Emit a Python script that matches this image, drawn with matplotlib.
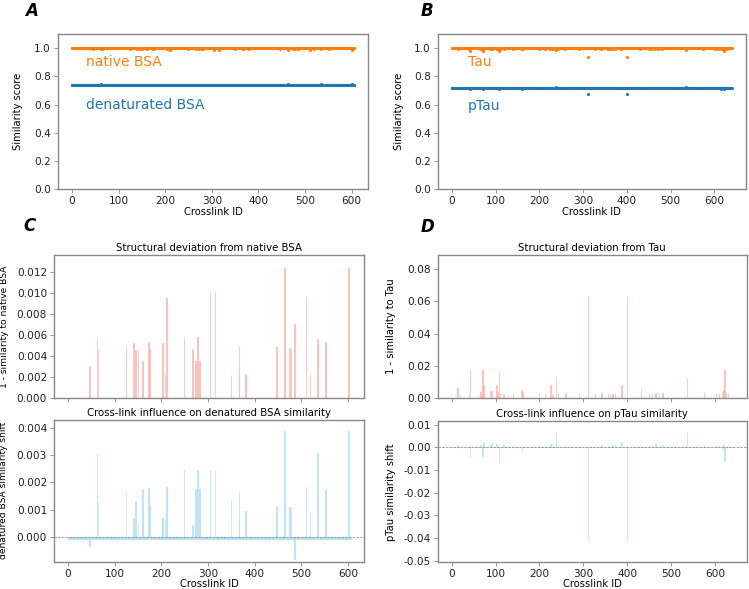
import numpy as np
import matplotlib
matplotlib.use('Agg')
import matplotlib.pyplot as plt
from matplotlib.ticker import FormatStrFormatter

# ---- dados ----
n_bsa = 606          # crosslinks BSA (0..605)
n_tau = 641          # crosslinks Tau (0..640)

# desvio estrutural do BSA nativo (1 - similaridade), so os ids diferentes de zero
bsa_dev_ids = [46, 62, 64, 124, 140, 145, 150, 160, 173, 175, 203, 208, 211, 249,
               267, 273, 278, 282, 304, 315, 349, 366, 367, 380, 447, 464, 475, 478,
               485, 510, 519, 535, 552, 601]
bsa_dev_vals = [0.0030, 0.0056, 0.0045, 0.0048, 0.0052, 0.0045, 0.0046, 0.0035, 0.0053,
                0.0046, 0.0052, 0.0023, 0.0095, 0.0058, 0.0046, 0.0035, 0.0058, 0.0035,
                0.0102, 0.0102, 0.0022, 0.0049, 0.0023, 0.0023, 0.0048, 0.0124, 0.0047,
                0.0046, 0.0070, 0.0095, 0.0023, 0.0056, 0.0053, 0.0124]
# deslocamento da similaridade do BSA desnaturado
bsa_shift_base = -0.00008
bsa_shift_vals = [-0.00035, 0.00309, 0.00127, 0.0017, 0.00068, 0.0013, 0.00046, 0.00177,
                  0.00178, 0.00113, 0.00068, 0.00068, 0.00184, 0.00245, 0.00044, 0.00177,
                  0.00245, 0.00177, 0.00245, 0.00245, 0.00135, 0.00168, 0.00068, 0.00095,
                  0.00113, 0.0039, 0.00111, 0.00111, -0.00084, 0.00184, 0.00096, 0.00309,
                  0.00177, 0.0039]
bsa_denat_level = 0.74

# Tau
tau_dev_ids = [13, 19, 40, 42, 60, 64, 66, 69, 70, 72, 88, 92, 102, 104, 108, 110, 118,
               128, 140, 159, 161, 199, 213, 225, 228, 231, 238, 242, 259, 290, 310, 326,
               341, 356, 361, 366, 372, 387, 400, 431, 450, 456, 464, 472, 480, 536, 575,
               602, 609, 616, 619, 622, 625, 629]
tau_dev_vals = [0.0063, 0.0017, 0.0027, 0.0173, 0.0017, 0.0027, 0.0033, 0.0048, 0.0173,
                0.0079, 0.0044, 0.0048, 0.0079, 0.0038, 0.0163, 0.0027, 0.0021, 0.0017,
                0.0027, 0.0048, 0.0038, 0.0027, 0.0027, 0.0079, 0.0023, 0.0023, 0.0125,
                0.0027, 0.0027, 0.0027, 0.0637, 0.0027, 0.0027, 0.0027, 0.0021, 0.0021,
                0.0027, 0.0079, 0.0637, 0.0063, 0.0027, 0.0027, 0.0027, 0.0027, 0.0027,
                0.0125, 0.0035, 0.0027, 0.0027, 0.0035, 0.0048, 0.0173, 0.0035, 0.0027]
ptau_shift_ids = [13, 42, 60, 66, 70, 72, 88, 92, 102, 108, 118, 140, 160, 199, 213, 225,
                  231, 238, 242, 259, 290, 310, 326, 341, 356, 366, 372, 387, 400, 431,
                  450, 456, 464, 472, 480, 536, 575, 602, 609, 616, 619, 622, 629]
ptau_shift_vals = [0.0008, -0.0041, 0.0005, 0.0008, -0.0038, 0.0017, 0.0008, 0.0020,
                   0.0015, -0.0062, 0.0008, 0.0006, -0.0019, 0.0006, 0.0008, 0.0015,
                   0.0020, 0.0068, 0.0010, 0.0006, 0.0006, -0.0410, 0.0006, 0.0008,
                   0.0012, 0.0008, 0.0010, 0.0025, -0.0410, 0.0010, 0.0008, 0.0012,
                   0.0015, 0.0012, 0.0008, 0.0068, 0.0012, 0.0008, 0.0010, -0.0010,
                   0.0012, -0.0062, 0.0012]
ptau_level = 0.715

# ---- montar series completas ----
bsa_x = np.arange(n_bsa)
bsa_dev = np.zeros(n_bsa)
bsa_dev[bsa_dev_ids] = bsa_dev_vals
bsa_shift = np.full(n_bsa, bsa_shift_base)
bsa_shift[bsa_dev_ids] = bsa_shift_vals
bsa_native = 1 - bsa_dev
bsa_denat = bsa_denat_level + bsa_shift

tau_x = np.arange(n_tau)
tau_dev = np.zeros(n_tau)
tau_dev[tau_dev_ids] = tau_dev_vals
ptau_shift = np.zeros(n_tau)
ptau_shift[ptau_shift_ids] = ptau_shift_vals
tau_sim = 1 - tau_dev
ptau_sim = ptau_level + ptau_shift

LARANJA = '#ff7f0e'
AZUL = '#1f77b4'
ESPINHA = '#888888'
VERMELHO_BARRA = '#fcb8b0'
AZUL_BARRA = '#b5e0f3'

plt.rcParams['font.family'] = 'DejaVu Sans'
plt.rcParams['font.size'] = 7.2

fig = plt.figure(figsize=(7.49, 5.89), dpi=100)


def estilo(ax, ylab_x):
    for s in ax.spines.values():
        s.set_color(ESPINHA)
        s.set_linewidth(1.0)
    ax.tick_params(colors='#222222', labelsize=7.6, length=3, width=0.6, pad=2)
    ax.tick_params(axis='both', color=ESPINHA)
    ax.yaxis.set_label_coords(ylab_x, 0.5)


def barras(ax, x, y, cor):
    # largura minima visivel: contorno na mesma cor
    ax.bar(x, y, width=1.0, color=cor, edgecolor=cor, linewidth=0.5)


# A
axA = fig.add_axes([0.0774, 0.679, 0.414, 0.263])
axA.scatter(bsa_x, bsa_native, s=5, color=LARANJA, linewidths=0)
axA.scatter(bsa_x, bsa_denat, s=5, color=AZUL, linewidths=0)
axA.text(30, 0.9, 'native BSA', color=LARANJA, fontsize=10, va='center')
axA.text(30, 0.6, 'denaturated BSA', color=AZUL, fontsize=10, va='center')
axA.set_ylim(0, 1.1)
axA.set_xlim(-30, 635)
axA.set_yticks(np.arange(0, 1.01, 0.2))
axA.set_xlabel('Crosslink ID', labelpad=1)
axA.set_ylabel('Similarity score')
estilo(axA, -0.113)

# B
axB = fig.add_axes([0.5848, 0.679, 0.411, 0.263])
axB.scatter(tau_x, tau_sim, s=5, color=LARANJA, linewidths=0)
axB.scatter(tau_x, ptau_sim, s=5, color=AZUL, linewidths=0)
axB.text(36, 0.9, 'Tau', color=LARANJA, fontsize=10, va='center')
axB.text(36, 0.59, 'pTau', color=AZUL, fontsize=10, va='center')
axB.set_ylim(0, 1.1)
axB.set_xlim(-32, 672)
axB.set_yticks(np.arange(0, 1.01, 0.2))
axB.set_xlabel('Crosslink ID', labelpad=1)
axB.set_ylabel('Similarity score')
estilo(axB, -0.11)

# C
axC1 = fig.add_axes([0.0721, 0.3248, 0.4143, 0.2423])
barras(axC1, bsa_x, bsa_dev, VERMELHO_BARRA)
axC1.set_ylim(0, 0.0136)
axC1.set_xlim(-30, 635)
axC1.set_yticks(np.arange(0, 0.0121, 0.002))
axC1.yaxis.set_major_formatter(FormatStrFormatter('%.3f'))
axC1.set_xticklabels([])
axC1.set_title('Structural deviation from native BSA', fontsize=7.3, pad=3)
axC1.set_ylabel('1 - similarity to native BSA', fontsize=6.6)
estilo(axC1, -0.145)

axC2 = fig.add_axes([0.0721, 0.0464, 0.4143, 0.2406])
barras(axC2, bsa_x, bsa_shift, AZUL_BARRA)
axC2.axhline(0, color='gray', linestyle='--', linewidth=0.5)
axC2.set_ylim(-0.00092, 0.0043)
axC2.set_xlim(-30, 635)
axC2.set_yticks(np.arange(0, 0.00401, 0.001))
axC2.yaxis.set_major_formatter(FormatStrFormatter('%.3f'))
axC2.set_title('Cross-link influence on denatured BSA similarity', fontsize=7.3, pad=3)
axC2.set_xlabel('Crosslink ID', labelpad=0)
axC2.set_ylabel('denatured BSA similarity shift', fontsize=6.6)
estilo(axC2, -0.148)

# D
axD1 = fig.add_axes([0.5843, 0.3248, 0.4125, 0.2423])
barras(axD1, tau_x, tau_dev, VERMELHO_BARRA)
axD1.set_ylim(0, 0.089)
axD1.set_xlim(-32, 672)
axD1.set_yticks(np.arange(0, 0.081, 0.02))
axD1.yaxis.set_major_formatter(FormatStrFormatter('%.2f'))
axD1.set_xticklabels([])
axD1.set_title('Structural deviation from Tau', fontsize=7.3, pad=3)
axD1.set_ylabel('1 - similarity to Tau')
estilo(axD1, -0.136)

axD2 = fig.add_axes([0.5843, 0.045, 0.4125, 0.24])
barras(axD2, tau_x, ptau_shift, AZUL_BARRA)
axD2.axhline(0, color='gray', linestyle='--', linewidth=0.5)
axD2.set_ylim(-0.0507, 0.0115)
axD2.set_xlim(-32, 672)
axD2.set_yticks(np.arange(-0.05, 0.0101, 0.01))
axD2.yaxis.set_major_formatter(FormatStrFormatter('%.2f'))
axD2.set_title('Cross-link influence on pTau similarity', fontsize=7.3, pad=3)
axD2.set_xlabel('Crosslink ID', labelpad=0)
axD2.set_ylabel('pTau similarity shift')
estilo(axD2, -0.136)

# letras dos paineis
for letra, x, y in [('A', 0.033, 0.997), ('B', 0.562, 0.997), ('C', 0.031, 0.632), ('D', 0.562, 0.630)]:
    fig.text(x, y, letra, fontsize=12, fontweight='bold', fontstyle='italic', va='top')

fig.savefig('out.png', dpi=100)
